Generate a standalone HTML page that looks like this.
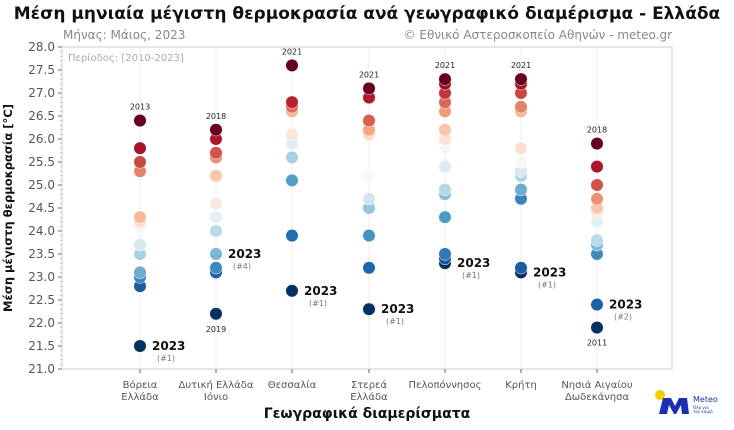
<!DOCTYPE html>
<html><head><meta charset="utf-8"><style>
body{margin:0;background:#fff;width:734px;height:425px;overflow:hidden}
text{font-family:"DejaVu Sans","Liberation Sans",sans-serif}
</style></head><body>
<svg id="s" width="734" height="425" xmlns="http://www.w3.org/2000/svg">
<text x="367" y="19" text-anchor="middle" font-size="17" font-weight="bold" fill="#111">Μέση μηνιαία μέγιστη θερμοκρασία ανά γεωγραφικό διαμέρισμα - Ελλάδα</text>
<text x="63" y="39" font-size="12" fill="#888">Μήνας: Μάιος, 2023</text>
<text x="672" y="39" text-anchor="end" font-size="12" fill="#888">© Εθνικό Αστεροσκοπείο Αθηνών - meteo.gr</text>
<rect x="62" y="47" width="610" height="322" fill="none" stroke="#ccc"/>
<text x="68" y="61" font-size="10" fill="#aaa">Περίοδος: [2010-2023]</text>
<text transform="translate(12,208) rotate(-90)" text-anchor="middle" font-size="11.5" font-weight="bold" fill="#111">Μέση μέγιστη θερμοκρασία [°C]</text>
<text x="367" y="418" text-anchor="middle" font-size="14" font-weight="bold" fill="#111">Γεωγραφικά διαμερίσματα</text>
<g id="g"></g>
<g transform="translate(655,390)">
<circle cx="5" cy="5" r="5" fill="#f5d000"/>
<path d="M4 24 L8 8 L16 8 L20 16 L24 8 L32 8 L34 24 L27 24 L26 15 L21 24 L19 24 L14 15 L12 24Z" fill="#1b2fb5"/>
<text x="38" y="12" font-size="8" fill="#1b2fb5">Meteo</text>
<text x="38" y="19" font-size="4" fill="#1b2fb5">Όλα για</text>
<text x="38" y="23" font-size="4" fill="#1b2fb5">τον καιρό</text>
</g>
</svg>
<script>
const g=document.getElementById('g');let h='';
const Y=v=>47+(28-v)*46;
for(let i=0;i<=14;i++){const v=21+i*0.5,y=Y(v);h+=`<line x1="58" x2="62" y1="${y}" y2="${y}" stroke="#666"/><text x="55" y="${y+4}" text-anchor="end" font-size="12" fill="#555">${v.toFixed(1)}</text>`;}
for(let i=0;i<=70;i++){const y=Y(21+i*0.1);h+=`<line x1="60" x2="62" y1="${y}" y2="${y}" stroke="#999" stroke-width="0.5"/>`;}
const cols=[
[140,["Βόρεια","Ελλάδα"],[26.4,25.8,25.5,25.3,24.3,24.2,24.1,23.7,23.5,23.1,23.0,22.8,21.5],"2013",null,21.5,"#1"],
[216,["Δυτική Ελλάδα","Ιόνιο"],[26.2,26.0,25.7,25.6,25.2,24.6,24.3,24.0,23.5,23.2,23.1,22.2],"2018","2019",23.5,"#4"],
[292,["Θεσσαλία"],[27.6,26.8,26.7,26.6,26.1,25.9,25.6,25.1,23.9,22.7],"2021",null,22.7,"#1"],
[369,["Στερεά","Ελλάδα"],[27.1,26.9,26.4,26.2,26.1,25.2,24.7,24.5,23.9,23.2,22.3],"2021",null,22.3,"#1"],
[445,["Πελοπόννησος"],[27.3,27.2,27.0,26.8,26.6,26.2,26.0,25.8,25.4,24.9,24.8,24.3,23.5,23.4,23.3],"2021",null,23.3,"#1"],
[521,["Κρήτη"],[27.3,27.2,27.0,26.7,26.6,25.8,25.5,25.3,25.2,24.9,24.7,23.2,23.1],"2021",null,23.1,"#1"],
[597,["Νησιά Αιγαίου","Δωδεκάνησα"],[25.9,25.4,25.0,24.7,24.5,24.4,24.2,23.8,23.7,23.5,22.4,21.9],"2018","2011",22.4,"#2"]];
const st=[[5,48,97],[33,102,172],[67,147,195],[146,197,222],[209,229,240],[247,247,247],[253,219,199],[244,165,130],[214,96,77],[178,24,43],[103,0,31]];
function col(t){t=Math.max(0,Math.min(1,t))*10;const i=Math.min(9,Math.floor(t)),f=t-i,a=st[i],b=st[i+1];return `rgb(${a.map((x,k)=>Math.round(x+(b[k]-x)*f)).join(',')})`;}
cols.forEach(c=>{const [x,lab,vals,top,bot,v23,rk]=c;
h+=`<line x1="${x}" x2="${x}" y1="47" y2="369" stroke="#eee"/><line x1="${x}" x2="${x}" y1="369" y2="373" stroke="#666"/>`;
lab.forEach((l,j)=>h+=`<text x="${x}" y="${388+j*12}" text-anchor="middle" font-size="10" fill="#555">${l}</text>`);
const mx=Math.max(...vals),mn=Math.min(...vals);
const s=[...vals].sort((a,b)=>a-b),n=s.length;
s.forEach((v,i)=>{h+=`<circle cx="${x}" cy="${Y(v)}" r="6.3" fill="${col(i/(n-1))}" stroke="#fff" stroke-width="0.5"/>`;});
h+=`<text x="${x}" y="${Y(mx)-11}" text-anchor="middle" font-size="8" fill="#222">${top}</text>`;
if(bot)h+=`<text x="${x}" y="${Y(mn)+18}" text-anchor="middle" font-size="8" fill="#222">${bot}</text>`;
const y=Y(v23);h+=`<text x="${x+12}" y="${y+4}" font-size="12" font-weight="bold" fill="#111">2023</text><text x="${x+26}" y="${y+15}" text-anchor="middle" font-size="8" fill="#777">(${rk})</text>`;
});
g.innerHTML=h;
</script>
</body></html>
